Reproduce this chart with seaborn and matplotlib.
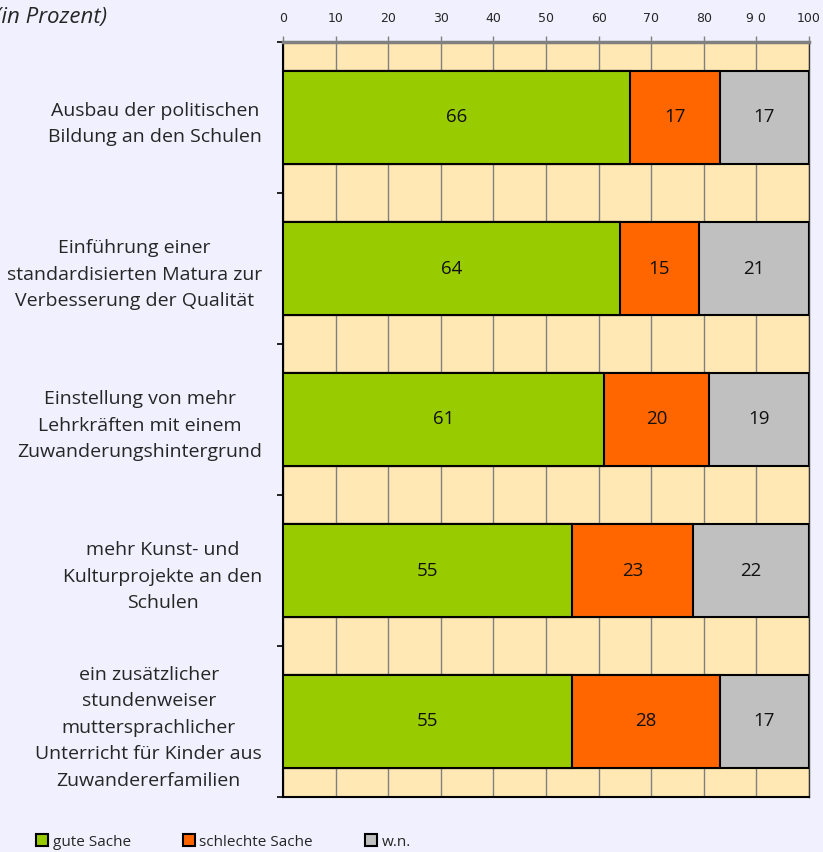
import numpy as np
import pandas as pd
import seaborn as sns
import matplotlib.pyplot as plt
from matplotlib.patches import Patch

categories = ["Ausbau der politischen\nBildung an den Schulen",
              "Einführung einer\nstandardisierten Matura zur\nVerbesserung der Qualität",
              "Einstellung von mehr\nLehrkräften mit einem\nZuwanderungshintergrund",
              "mehr Kunst- und\nKulturprojekte an den\nSchulen",
              "ein zusätzlicher\nstundenweiser\nmuttersprachlicher\nUnterricht für Kinder aus\nZuwandererfamilien"]
gute = [66, 64, 61, 55, 55]
schlechte = [17, 15, 20, 23, 28]
wn = [17, 21, 19, 22, 17]
series = ["gute Sache", "schlechte Sache", "w.n."]
colors = ["#99CC00", "#FF6600", "#C0C0C0"]
xticks = [0, 10, 20, 30, 40, 50, 60, 70, 80, 90, 100]
xticklabels = ["0", "10", "20", "30", "40", "50", "60", "70", "80", "9 0", "100"]

df = pd.DataFrame({"cat": categories, "gute": gute, "schlechte": schlechte, "wn": wn})
df["c1"] = df["gute"]
df["c2"] = df["gute"] + df["schlechte"]
df["c3"] = df["c2"] + df["wn"]

sns.set_style("white")
plt.rcParams["font.family"] = ["Open Sans", "DejaVu Sans"]

fig = plt.figure(figsize=(8.23, 8.52), dpi=100, facecolor="#F0F0FF")
ax = fig.add_axes([283/823, 1-797/852, 526/823, 755/852])
ax.set_facecolor("#FFE8B4")

# stacked by overdrawing cumulative totals
for col, c in zip(["c3", "c2", "c1"], colors[::-1]):
    sns.barplot(data=df, y="cat", x=col, color=c, orient="h", width=0.62,
                edgecolor="black", linewidth=1.5, saturation=1, ax=ax, zorder=3)

for i, row in df.iterrows():
    starts = [0, row["c1"], row["c2"]]
    for s, v in zip(starts, [row["gute"], row["schlechte"], row["wn"]]):
        ax.text(s + v / 2, i, str(v), ha="center", va="center", fontsize=13.5,
                color="#111111", zorder=4)

ax.set_xlim(0, 100)
ax.set_ylim(4.5, -0.5)
ax.set_xticks(xticks)
ax.set_xticklabels(xticklabels, fontsize=9, family="DejaVu Sans")
ax.xaxis.tick_top()
ax.tick_params(axis="x", top=True, direction="out", length=4, color="#808080", width=1, pad=8)
ax.grid(axis="x", color="#808080", linewidth=1, zorder=0)
ax.set_axisbelow(True)

ax.set_yticks(np.arange(len(categories)))
ax.set_yticklabels(categories, fontsize=14, multialignment="center", linespacing=1.6)
ax.tick_params(axis="y", length=0, pad=15)
ax.set_yticks(np.arange(-0.5, len(categories)), minor=True)
ax.tick_params(axis="y", which="minor", left=True, length=4, width=1.2, color="black",
               direction="out")
ax.set_xlabel("")
ax.set_ylabel("")

for side in ["left", "bottom"]:
    ax.spines[side].set_color("black")
    ax.spines[side].set_linewidth(1.5)
ax.spines["top"].set_color("#808080")
ax.spines["top"].set_linewidth(2.5)
ax.spines["right"].set_color("#333333")
ax.spines["right"].set_linewidth(1)

# title is cut at the left edge in the reference too
fig.text(107/823, 1-18/852, "(in Prozent)", ha="right", va="center",
         fontsize=16, style="italic")

handles = [Patch(facecolor=c, edgecolor="black", linewidth=1.5) for c in colors]
fig.legend(handles, series, loc="center left", bbox_to_anchor=(22/823, 1-842/852),
           ncol=3, frameon=False, handlelength=0.8, handleheight=0.8,
           handletextpad=0.3, columnspacing=3.4,
           prop={"family": "Open Sans", "size": 11})

fig.savefig("out.png", dpi=100, facecolor=fig.get_facecolor())
